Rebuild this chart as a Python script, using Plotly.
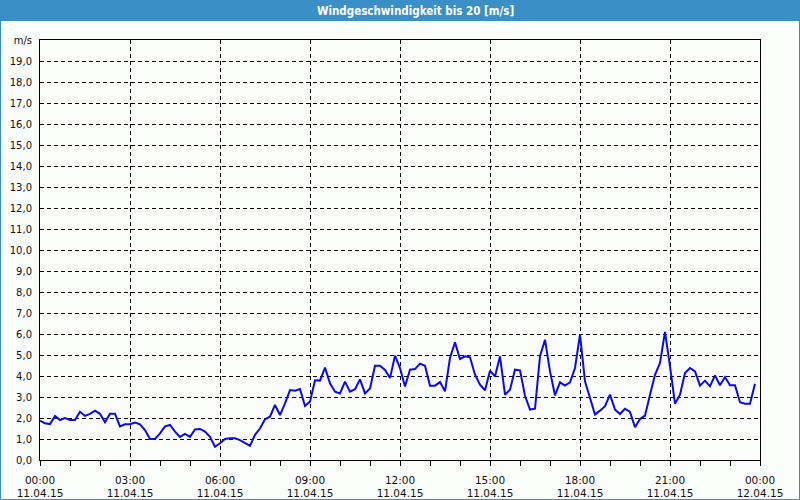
import plotly.graph_objects as go

# 10-minute samples, 00:00 .. 23:50 on 11.04.15 (hours as x)
wind_0_6 = [1.87, 1.75, 1.71, 2.1, 1.9, 2.0, 1.9, 1.9, 2.3, 2.1, 2.2, 2.35,
            2.2, 1.8, 2.2, 2.2, 1.6, 1.7, 1.7, 1.78, 1.7, 1.43, 1.0, 1.0,
            1.27, 1.6, 1.67, 1.35, 1.1, 1.24, 1.1, 1.46, 1.48, 1.35, 1.1, 0.63]
wind_6_12 = [0.8, 1.0, 1.03, 1.03, 0.95, 0.8, 0.67, 1.2, 1.5, 1.94, 2.06, 2.62,
             2.14, 2.7, 3.33, 3.3, 3.38, 2.57, 2.78, 3.8, 3.78, 4.4, 3.65, 3.25,
             3.17, 3.73, 3.25, 3.37, 3.84, 3.17, 3.41, 4.49, 4.49, 4.29, 3.9, 4.97]
wind_12_18 = [4.38, 3.5, 4.3, 4.33, 4.59, 4.49, 3.54, 3.54, 3.71, 3.27, 4.86, 5.6,
              4.81, 4.94, 4.89, 4.06, 3.59, 3.32, 4.25, 3.98, 4.94, 3.11, 3.35, 4.3,
              4.27, 3.06, 2.4, 2.44, 4.94, 5.73, 4.22, 3.08, 3.7, 3.54, 3.7, 4.38]
wind_18_24 = [5.97, 3.75, 2.95, 2.16, 2.35, 2.56, 3.11, 2.4, 2.19, 2.44, 2.29, 1.56,
              1.95, 2.11, 3.11, 4.06, 4.62, 6.1, 4.46, 2.68, 3.11, 4.14, 4.38, 4.22,
              3.54, 3.78, 3.51, 4.03, 3.56, 3.95, 3.56, 3.56, 2.75, 2.68, 2.68, 3.63]

wind = wind_0_6 + wind_6_12 + wind_12_18 + wind_18_24
hours = [i / 6 for i in range(len(wind))]

x_tickvals = [0, 3, 6, 9, 12, 15, 18, 21, 24]
x_ticktext = ["00:00<br>11.04.15", "03:00<br>11.04.15", "06:00<br>11.04.15",
              "09:00<br>11.04.15", "12:00<br>11.04.15", "15:00<br>11.04.15",
              "18:00<br>11.04.15", "21:00<br>11.04.15", "00:00<br>12.04.15"]
y_tickvals = list(range(0, 21))
y_ticktext = [f"{v},0" for v in range(0, 20)] + ["m/s"]

title = "Windgeschwindigkeit bis 20 [m/s]"

BLUE = "#3b8fc7"
BG = "#fafdfa"

fig = go.Figure()
fig.add_trace(go.Scatter(x=hours, y=wind, mode="lines",
                         line=dict(color="#0a0aeb", width=2), hoverinfo="skip"))

W, H, L, T = 720, 420, 40, 40
def px_x(p):
    return (p - L) / W
def px_y(p):
    return (T + H - p) / H

fig.update_layout(
    width=800, height=500,
    margin=dict(l=40, r=40, t=40, b=40),
    paper_bgcolor=BG, plot_bgcolor=BG,
    showlegend=False,
    font=dict(family="DejaVu Sans", size=10, color="#111111"),
    xaxis=dict(range=[0, 24], tickvals=x_tickvals, ticktext=x_ticktext,
               showgrid=True, gridcolor="black", griddash="4px,3px", gridwidth=1,
               showline=True, linecolor="black", linewidth=1, mirror=True,
               ticks="outside", ticklen=5, tickcolor="black",
               ticklabelstandoff=5, automargin=False,
               tickfont=dict(family="DejaVu Sans", size=10.5, color="#111111"),
               minor=dict(dtick=1, tick0=0, ticks="outside", ticklen=5,
                          tickcolor="black", showgrid=False),
               zeroline=False, fixedrange=True),
    yaxis=dict(range=[0, 20], tickvals=y_tickvals, ticktext=y_ticktext,
               showgrid=True, gridcolor="black", griddash="4px,3px", gridwidth=1,
               showline=True, linecolor="black", linewidth=1, mirror=True,
               ticks="", ticklabelstandoff=5, automargin=False,
               zeroline=False, fixedrange=True),
    shapes=[
        dict(type="rect", xref="paper", yref="paper",
             x0=px_x(0), x1=px_x(800), y0=px_y(21), y1=px_y(0),
             fillcolor=BLUE, line=dict(width=0), layer="above"),
        dict(type="rect", xref="paper", yref="paper",
             x0=px_x(0.5), x1=px_x(799.5), y0=px_y(499.5), y1=px_y(0.5),
             fillcolor="rgba(0,0,0,0)", line=dict(color=BLUE, width=1), layer="above"),
    ],
    annotations=[
        dict(text="<b>" + title + "</b>", xref="paper", yref="paper",
             x=px_x(415), y=px_y(10.5), xanchor="center", yanchor="middle",
             showarrow=False,
             font=dict(family="Liberation Sans Narrow, DejaVu Sans Condensed", size=11.5, color="white")),
    ],
)

fig.write_html("out.html")
